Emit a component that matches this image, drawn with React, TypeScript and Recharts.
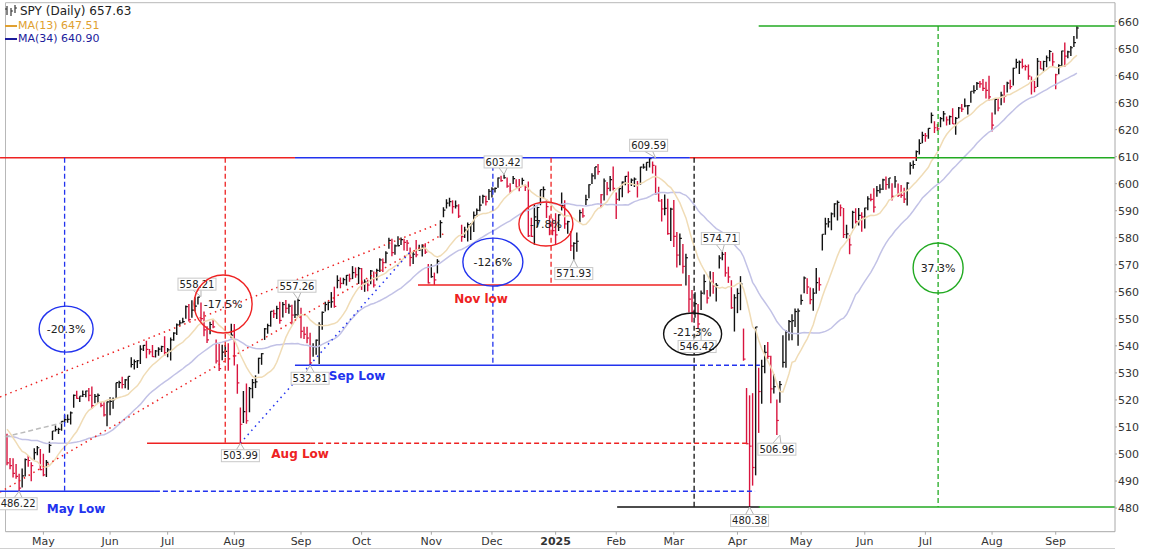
import React from "react";
import { ComposedChart, Bar, Line, XAxis, YAxis, ReferenceLine, ReferenceDot } from "recharts";

type Hlc = [number, number, number]; // high, low, close

// closes before the first plotted bar, only used to seed the moving averages
const preCloses = [
  497.5, 496.8, 498.6, 503.3, 502.8, 497.7, 500.3, 505.2, 502.2, 501.8, 507.2, 506.4, 505.4, 501.9, 504.9, 507.7, 512.4,
  514.1, 513.1, 511.7, 510.8, 515.1, 515.0, 514.1, 510.8, 511.4, 505.1, 510.4, 510.7, 511.3, 506.2, 510.0, 502.9,
];

const apr24: Hlc[] = [
  [507.5, 495.8, 496.7], [498.5, 494.4, 495.7], [498.4, 491.3, 492.8], [496.3, 490.8, 491.7], [492.7, 486.2, 487.4],
  [494.6, 487.6, 491.9], [498.3, 491.7, 497.9], [499.6, 495.3, 497.6], [496.9, 489.9, 495.7], [502.1, 497.9, 500.5],
  [503.0, 499.5, 502.3], [501.8, 494.0, 494.2],
];
const may24: Hlc[] = [
  [500.1, 491.8, 492.3], [497.8, 491.5, 496.9], [504.5, 500.5, 503.2], [508.5, 505.2, 508.5], [510.5, 508.3, 509.0],
  [509.7, 507.4, 509.1], [512.1, 508.6, 512.1], [514.5, 511.5, 512.7], [514.6, 511.6, 512.8], [515.7, 510.9, 515.2],
  [522.0, 517.1, 521.7], [523.4, 520.4, 520.6], [521.4, 519.2, 521.4], [523.5, 521.1, 522.0], [523.4, 521.0, 523.3],
  [524.4, 519.5, 521.7], [525.0, 516.6, 517.9], [522.2, 518.8, 521.3], [522.4, 519.0, 521.7], [519.2, 517.3, 518.0],
  [519.1, 513.9, 514.5], [519.4, 510.3, 519.3],
];
const jun24: Hlc[] = [
  [521.0, 514.3, 519.5], [520.9, 516.7, 520.1], [526.4, 520.4, 526.4], [527.1, 524.4, 526.4], [528.6, 524.2, 525.7],
  [527.7, 524.3, 527.4], [528.7, 523.8, 528.7], [535.8, 532.0, 533.1], [535.0, 531.3, 534.2], [534.8, 531.8, 534.5],
  [540.2, 533.3, 538.8], [540.3, 538.1, 540.2], [541.9, 535.4, 538.7], [538.8, 536.8, 537.8], [540.3, 535.9, 536.0],
  [538.5, 535.7, 538.1], [539.5, 536.3, 538.8], [540.0, 537.7, 539.7], [543.6, 536.3, 537.5],
];
const jul24: Hlc[] = [
  [539.2, 535.8, 538.5], [543.1, 534.6, 542.2], [545.0, 541.9, 544.7], [548.3, 544.0, 547.8], [549.5, 547.4, 548.5],
  [550.4, 548.4, 549.0], [554.9, 550.0, 554.5], [555.5, 549.0, 549.7], [556.9, 550.4, 553.2], [558.0, 552.8, 554.7],
  [558.2, 555.3, 558.0], [556.0, 549.0, 550.1], [552.7, 543.6, 545.9], [547.3, 541.1, 542.2], [548.9, 544.3, 547.9],
  [549.9, 546.5, 547.0], [542.4, 533.5, 534.4], [540.7, 530.7, 531.6], [540.4, 534.7, 537.7], [540.3, 535.9, 538.0],
  [541.0, 530.8, 535.2], [548.2, 542.8, 544.0],
];
const aug24: Hlc[] = [
  [548.1, 532.7, 536.3], [533.2, 522.3, 526.3], [517.2, 504.0, 511.0], [523.3, 511.5, 515.7], [526.1, 511.2, 512.3],
  [524.8, 515.4, 524.2], [527.7, 520.6, 526.4], [529.1, 524.4, 526.7], [535.6, 529.7, 535.4], [537.3, 533.0, 537.1],
  [546.6, 542.2, 546.3], [548.2, 544.5, 547.5], [552.8, 547.1, 552.8], [553.4, 550.3, 551.9], [554.8, 549.9, 553.8],
  [556.3, 548.2, 549.4], [556.2, 550.5, 555.3], [557.0, 552.2, 553.9], [555.6, 551.9, 554.7], [555.2, 547.9, 551.4],
  [556.8, 550.3, 551.5], [557.3, 550.9, 556.8],
];
const sep24: Hlc[] = [
  [554.1, 542.8, 545.4], [547.1, 542.5, 544.3], [547.1, 541.0, 542.9], [544.9, 532.8, 533.7], [541.0, 536.0, 539.7],
  [542.4, 536.7, 542.1], [548.7, 533.3, 547.7], [552.7, 546.0, 552.4], [556.3, 552.7, 555.3], [556.4, 553.2, 556.1],
  [559.9, 554.1, 556.3], [561.9, 554.1, 554.6], [566.1, 561.3, 564.2], [565.3, 561.3, 563.1], [565.2, 562.8, 564.5],
  [566.2, 562.3, 566.1], [566.7, 563.7, 564.8], [569.5, 564.7, 567.1], [569.0, 565.2, 566.3], [569.2, 562.9, 568.6],
];
const oct24: Hlc[] = [
  [568.8, 560.7, 563.3], [564.6, 560.0, 563.6], [564.5, 560.2, 562.5], [568.1, 562.8, 567.7], [567.5, 561.6, 562.5],
  [568.5, 564.2, 567.9], [572.4, 567.3, 571.8], [572.3, 567.3, 570.8], [575.0, 570.6, 574.3], [580.0, 575.9, 579.0],
  [579.6, 573.2, 574.5], [577.5, 573.7, 577.0], [580.6, 576.8, 577.1], [580.1, 577.3, 579.3], [579.6, 575.3, 578.3],
  [579.2, 575.1, 578.0], [576.4, 569.5, 572.7], [574.8, 570.3, 573.9], [579.2, 572.8, 573.7], [577.4, 575.2, 575.5],
  [577.6, 573.1, 576.5], [578.0, 574.0, 574.7], [570.3, 563.1, 563.3],
];
const nov24: Hlc[] = [
  [570.2, 565.2, 565.6], [567.1, 562.5, 564.4], [572.1, 566.8, 571.3], [586.5, 580.0, 585.6], [591.3, 587.6, 590.2],
  [594.2, 590.8, 592.8], [594.8, 591.6, 593.4], [593.9, 589.0, 591.5], [593.8, 590.8, 591.8], [592.4, 587.3, 588.0],
  [584.8, 578.5, 580.4], [584.1, 579.9, 582.8], [585.6, 578.6, 584.9], [585.4, 579.2, 585.1], [589.7, 582.1, 588.3],
  [590.8, 587.8, 590.1], [595.5, 589.8, 592.1], [595.9, 592.7, 595.3], [595.5, 591.9, 593.4], [598.0, 594.0, 597.2],
];
const dec24: Hlc[] = [
  [598.7, 594.9, 598.0], [598.6, 596.7, 598.3], [602.3, 598.5, 602.1], [602.9, 600.7, 601.1], [603.4, 601.8, 602.2],
  [602.3, 598.5, 599.1], [600.2, 596.5, 597.2], [602.8, 599.9, 601.9], [601.6, 598.7, 598.7], [601.7, 597.2, 598.6],
  [602.2, 599.6, 601.2], [599.6, 597.3, 598.7], [600.8, 580.3, 580.7], [587.4, 580.3, 580.5], [592.3, 577.4, 587.7],
  [591.5, 583.9, 591.2], [597.8, 592.0, 597.8], [599.0, 594.6, 597.8], [594.3, 587.3, 591.5], [588.2, 580.9, 584.7],
  [587.1, 580.9, 582.6],
];
const jan25: Hlc[] = [
  [589.1, 577.4, 581.1], [588.7, 582.5, 588.5], [596.7, 590.1, 591.9], [593.9, 583.3, 585.1], [586.3, 581.5, 586.0],
  [582.5, 575.1, 577.0], [578.3, 571.9, 577.9], [581.9, 574.8, 578.7], [590.4, 585.7, 589.3], [590.9, 587.4, 588.1],
  [595.9, 592.1, 594.1], [599.8, 594.6, 599.6], [603.9, 599.9, 602.9], [606.2, 601.6, 606.2], [607.3, 603.3, 604.5],
  [596.2, 591.1, 595.9], [601.9, 593.8, 601.0], [600.6, 595.7, 598.3], [602.8, 597.2, 601.5], [606.4, 597.5, 598.3],
];
const feb25: Hlc[] = [
  [596.7, 586.9, 594.2], [598.7, 593.7, 598.2], [600.8, 595.0, 600.6], [602.8, 599.4, 602.7], [604.5, 596.5, 597.2],
  [601.9, 599.1, 601.3], [602.3, 598.8, 601.7], [601.0, 594.9, 599.8], [606.3, 599.6, 606.1], [607.4, 605.5, 606.1],
  [607.9, 604.8, 607.9], [609.6, 606.0, 609.3], [608.2, 603.8, 606.8], [606.7, 595.9, 596.3], [598.9, 593.4, 593.6],
  [594.3, 586.0, 590.7], [596.0, 588.3, 590.9], [594.4, 581.1, 581.5], [591.1, 578.8, 590.6],
];
const mar25: Hlc[] = [
  [594.0, 576.6, 580.5], [582.1, 569.0, 573.6], [581.6, 569.8, 579.8], [577.7, 566.8, 569.4], [574.1, 562.3, 572.6],
  [566.2, 552.3, 557.3], [560.7, 548.7, 552.6], [559.8, 550.4, 555.6], [555.5, 546.4, 548.1], [560.5, 553.3, 559.5],
  [566.4, 559.0, 563.8], [560.7, 555.7, 557.7], [567.6, 558.3, 563.8], [567.3, 559.3, 562.2], [563.3, 556.4, 562.4],
  [573.5, 568.6, 572.5], [574.7, 571.7, 573.9], [574.7, 565.6, 567.0], [569.3, 563.3, 565.5], [564.3, 553.7, 554.1],
  [559.1, 545.3, 557.8],
];
const apr25: Hlc[] = [
  [561.3, 552.1, 559.4], [565.8, 553.2, 562.9], [546.4, 534.5, 535.1], [524.4, 503.6, 503.8], [521.7, 480.4, 502.9],
  [522.5, 488.3, 495.0], [547.0, 492.1, 547.0], [531.9, 507.8, 523.1], [534.9, 518.6, 532.4], [540.3, 529.9, 537.6],
  [541.4, 535.1, 536.1], [536.3, 518.8, 524.1], [529.6, 522.4, 524.9], [520.2, 507.0, 512.4], [527.0, 519.0, 525.7],
  [543.9, 532.0, 533.9], [545.9, 531.9, 545.1], [549.6, 542.0, 549.0], [551.7, 542.1, 549.3], [553.8, 547.0, 552.7],
  [553.8, 540.0, 552.9],
];
const may25: Hlc[] = [
  [559.0, 555.2, 556.8], [565.7, 559.5, 565.1], [565.0, 559.2, 561.8], [561.6, 555.4, 557.1], [561.3, 553.0, 559.5],
  [568.8, 559.3, 563.4], [565.3, 560.4, 562.6], [581.3, 575.3, 581.3], [587.4, 581.1, 585.1], [587.3, 583.8, 585.9],
  [589.3, 582.8, 588.8], [592.8, 587.6, 592.5], [593.8, 586.4, 593.1], [592.3, 588.0, 591.1], [591.0, 579.9, 581.2],
  [584.8, 579.7, 581.4], [580.9, 573.9, 577.4], [590.0, 583.4, 589.4], [590.9, 585.3, 586.0], [591.0, 584.5, 588.3],
  [589.4, 582.2, 587.7],
];
const jun25: Hlc[] = [
  [591.1, 583.4, 591.0], [595.4, 590.2, 594.4], [596.3, 593.5, 594.2], [598.3, 589.3, 591.3], [599.1, 595.2, 597.4],
  [599.8, 596.5, 598.0], [601.8, 597.7, 601.4], [602.7, 597.8, 599.7], [602.1, 598.2, 602.1], [600.2, 593.8, 595.3],
  [602.8, 598.5, 601.0], [600.1, 595.1, 595.8], [599.5, 594.8, 595.7], [598.5, 592.9, 594.3], [600.5, 591.9, 600.2],
  [607.9, 603.4, 606.8], [608.6, 605.5, 607.1], [612.3, 608.4, 611.9], [616.4, 610.8, 614.9], [619.2, 615.0, 617.9],
];
const jul25: Hlc[] = [
  [618.8, 615.5, 617.7], [620.5, 616.6, 620.5], [626.3, 622.4, 625.3], [623.1, 618.8, 620.7], [622.1, 619.5, 620.3],
  [624.7, 620.9, 624.1], [626.9, 623.0, 625.8], [624.9, 621.5, 623.6], [625.2, 621.8, 624.8], [627.9, 622.1, 622.1],
  [624.7, 618.1, 624.2], [628.4, 624.2, 628.0], [629.5, 626.5, 627.6], [631.5, 628.3, 628.8], [629.1, 625.6, 628.9],
  [634.2, 629.9, 634.2], [636.4, 633.4, 634.4], [637.6, 634.7, 637.1], [638.0, 635.5, 636.9], [638.7, 634.3, 635.3],
  [637.7, 631.5, 634.5], [639.9, 630.8, 632.1],
];
const aug25: Hlc[] = [
  [626.3, 619.3, 621.7], [631.6, 625.6, 631.2], [631.6, 626.8, 628.0], [634.0, 629.0, 632.8], [636.5, 629.9, 632.3],
  [637.7, 633.7, 637.2], [638.5, 634.9, 635.9], [642.9, 636.3, 642.7], [646.2, 642.7, 644.9], [645.6, 640.6, 645.0],
  [646.2, 642.6, 643.4], [644.0, 641.9, 643.3], [644.1, 638.5, 639.8], [639.7, 633.0, 638.1], [638.0, 633.8, 635.6],
  [646.5, 635.8, 645.3], [645.4, 642.4, 642.5], [645.5, 641.6, 645.2], [647.4, 643.1, 646.6], [649.5, 645.3, 648.9],
  [648.4, 643.5, 645.1],
];
const sep25: Hlc[] = [
  [640.7, 634.9, 640.3], [644.2, 640.5, 643.7], [649.2, 643.5, 649.1], [652.2, 643.3, 647.2], [649.2, 646.4, 648.8],
  [650.9, 647.2, 650.3], [654.6, 650.6, 652.2], [658.3, 653.6, 657.6],
];

const months = [apr24, may24, jun24, jul24, aug24, sep24, oct24, nov24, dec24, jan25, feb25, mar25, apr25, may25, jun25, jul25, aug25, sep25];

// bar index of the first trading day of each month and its label
const tickIdx = [12, 34, 53, 75, 97, 117, 140, 160, 181, 201, 220, 241, 262, 283, 303, 325, 346];
const tickLabels = ["May", "Jun", "Jul", "Aug", "Sep", "Oct", "Nov", "Dec", "2025", "Feb", "Mar", "Apr", "May", "Jun", "Jul", "Aug", "Sep"];
const priceTicks = [480, 490, 500, 510, 520, 530, 540, 550, 560, 570, 580, 590, 600, 610, 620, 630, 640, 650, 660];

const RED = "#ee2222";
const BLUE = "#2233ee";
const GREEN = "#22aa22";
const BLACK = "#111111";

// annotation levels drawn by the chartist: [fromBar, toBar, price, color, dashed]
const levelLines: [number, number, number, string, boolean][] = [
  [-2.3, 95, 609.59, RED, false],
  [95, 225.3, 609.59, BLUE, false],
  [225.3, 300.2, 609.59, RED, false],
  [300.2, 365.6, 609.59, GREEN, false],
  [248, 365.6, 658.33, GREEN, false],
  [135.6, 222.7, 562.5, RED, false],
  [95, 226, 532.81, BLUE, false],
  [226, 248.4, 532.81, BLUE, true],
  [46.2, 100, 503.99, RED, false],
  [100, 245, 503.99, RED, true],
  [-2.3, 48.8, 486.22, BLUE, false],
  [48.8, 246.8, 486.22, BLUE, true],
  [201.3, 248.4, 480.38, BLACK, false],
  [248, 365.6, 480.38, GREEN, false],
];
// dashed drops: [bar, topPrice, bottomPrice, color]
const dropLines: [number, number, number, string][] = [
  [19, 609.59, 486.22, BLUE],
  [72, 609.59, 503.99, RED],
  [160.3, 609.59, 532.81, BLUE],
  [179.5, 609.59, 562.5, RED],
  [226.7, 609.59, 480.38, BLACK],
  [307.2, 658.33, 480.38, GREEN],
];
// dotted trend lines: [bar1, price1, bar2, price2, color]
const trendLines: [number, number, number, number, string][] = [
  [-2.3, 521.1, 142.2, 585.1, RED],
  [-2.3, 485.9, 144.5, 581.8, RED],
  [77, 504.0, 133.6, 575.5, BLUE],
  [-0.7, 506.3, 18.1, 511.5, "#bbbbbb"],
];
// percentage ovals: [bar, price, rx, ry, color, text, textShift]
const ovals: [number, number, number, number, string, string, number][] = [
  [19.5, 546.2, 27, 23, BLUE, "-20.3%", 4],
  [71.3, 555.5, 29, 29, RED, "-17.5%", 4],
  [160.3, 571.0, 30, 24, BLUE, "-12.6%", 4],
  [177.8, 585.1, 27, 22, RED, "-7.8%", 4],
  [226.2, 544.4, 29, 21, BLACK, "-21.3%", 2],
  [307.2, 568.8, 25, 25, GREEN, "37.3%", 4],
];
// price call-outs: [bar, price, dx, dy, text]
const priceTags: [number, number, number, number, string][] = [
  [4, 486.22, -1, 12.5, "486.22"],
  [77, 503.99, 0, 12.5, "503.99"],
  [100, 532.81, 0, 13, "532.81"],
  [64, 558.21, -4, -12.5, "558.21"],
  [96, 557.26, -1, -13, "557.26"],
  [164, 603.42, -1, -12.5, "603.42"],
  [214, 609.59, -7, -12.5, "609.59"],
  [187, 571.93, 0, 14, "571.93"],
  [236, 574.71, -2, -13.5, "574.71"],
  [255, 506.96, -3, 14, "506.96"],
  [245, 480.38, 0, 13.5, "480.38"],
  [229, 546.42, -4, 18, "546.42"],
];
// bold text notes: [bar, price, text, color]
const notes: [number, number, string, string][] = [
  [22.8, 479.8, "May Low", BLUE],
  [96.7, 500.0, "Aug Low", RED],
  [115.5, 528.9, "Sep Low", BLUE],
  [156.4, 557.7, "Nov low", RED],
];

const bars = months.flat();
const closes = [...preCloses, ...bars.map((b) => b[2])];
const P = preCloses.length;
const sma = (n: number, k: number) => {
  let s = 0;
  for (let j = k - n + 1; j <= k; j++) s += closes[j];
  return s / n;
};
const data = bars.map((b, i) => ({
  i,
  range: [b[1], b[0]],
  high: b[0],
  low: b[1],
  close: b[2],
  up: b[2] >= closes[P + i - 1],
  ma13: sma(13, P + i),
  ma34: sma(34, P + i),
}));

const BarShape = (props: any) => {
  const { x, y, width, height, payload } = props;
  const cx = x + width / 2;
  const span = payload.high - payload.low || 1;
  const cy = y + ((payload.high - payload.close) / span) * height;
  const color = payload.up ? "#111111" : "#d8143e";
  return (
    <g>
      <line x1={cx} x2={cx} y1={y} y2={y + height} stroke={color} strokeWidth={1.4} />
      <line x1={cx} x2={cx + 2} y1={cy} y2={cy} stroke={color} strokeWidth={1.2} />
    </g>
  );
};

const MonthTick = (p: any) => {
  const label = tickLabels[tickIdx.indexOf(p.payload.value)];
  return (
    <text x={p.x} y={p.y} dy={8} textAnchor="middle" fontSize={11} fill="#333" fontWeight={label === "2025" ? "bold" : "normal"}>
      {label}
    </text>
  );
};

const PriceTick = (p: any) => (
  <text x={p.x} y={p.y} dy={4} textAnchor="start" fontSize={11} fill="#333">
    {p.payload.value}
  </text>
);

export default function App() {
  return (
    <div style={{ position: "absolute", left: 0, top: 0, width: 1154, height: 550, background: "#fff", fontFamily: "'DejaVu Sans', Verdana, sans-serif" }}>
      <ComposedChart width={1154} height={550} data={data} margin={{ top: 2.7, right: 0, bottom: 0, left: 5.5 }}>
        <XAxis
          dataKey="i"
          type="number"
          domain={[-0.5, 365.56]}
          ticks={tickIdx}
          interval={0}
          allowDataOverflow
          height={18.3}
          tickSize={3}
          tickMargin={2}
          tick={<MonthTick />}
          axisLine={{ stroke: "#a8a8a8" }}
          tickLine={{ stroke: "#a8a8a8" }}
        />
        <YAxis
          orientation="right"
          domain={[471.25, 666.96]}
          ticks={priceTicks}
          interval={0}
          allowDataOverflow
          width={39}
          tickSize={2}
          tickMargin={1}
          tick={<PriceTick />}
          axisLine={{ stroke: "#a8a8a8" }}
          tickLine={{ stroke: "#a8a8a8" }}
        />
        <ReferenceLine x={-0.5} stroke="#b8b8b8" ifOverflow="visible" />
        <ReferenceLine y={666.96} stroke="#b8b8b8" ifOverflow="visible" />
        <Line dataKey="ma34" stroke="#c2c2e6" strokeWidth={1.5} dot={false} isAnimationActive={false} />
        <Line dataKey="ma13" stroke="#f0dcb6" strokeWidth={1.5} dot={false} isAnimationActive={false} />
        {trendLines.map((t, k) => (
          <ReferenceLine
            key={"t" + k}
            segment={[{ x: t[0], y: t[1] }, { x: t[2], y: t[3] }]}
            stroke={t[4]}
            strokeWidth={1.5}
            strokeDasharray={t[4] === "#bbbbbb" ? "5 3" : "1.5 4"}
            ifOverflow="visible"
          />
        ))}
        <Bar dataKey="range" barSize={3} shape={<BarShape />} isAnimationActive={false} />
        {levelLines.map((l, k) => (
          <ReferenceLine
            key={"h" + k}
            segment={[{ x: l[0], y: l[2] }, { x: l[1], y: l[2] }]}
            stroke={l[3]}
            strokeWidth={1.5}
            strokeDasharray={l[4] ? "5 3" : undefined}
            ifOverflow="visible"
          />
        ))}
        {dropLines.map((d, k) => (
          <ReferenceLine
            key={"v" + k}
            segment={[{ x: d[0], y: d[1] }, { x: d[0], y: d[2] }]}
            stroke={d[3]}
            strokeWidth={1.3}
            strokeDasharray="5 3"
            ifOverflow="visible"
          />
        ))}
        {priceTags.map((t, k) => (
          <ReferenceDot
            key={"p" + k}
            x={t[0]}
            y={t[1]}
            r={1}
            ifOverflow="visible"
            shape={(s: any) => {
              const bx = s.cx + t[2];
              const by = s.cy + t[3];
              const w = 38;
              const h = 12;
              const edge = t[3] > 0 ? by - h / 2 : by + h / 2;
              return (
                <g>
                  <path d={`M${bx - 4},${edge} L${s.cx},${s.cy} L${bx + 4},${edge}`} fill="#fff" stroke="#b4b4b4" />
                  <rect x={bx - w / 2} y={by - h / 2} width={w} height={h} fill="#fff" stroke="#c8c8c8" />
                  <text x={bx} y={by + 3.6} textAnchor="middle" fontSize={10} fill="#222">
                    {t[4]}
                  </text>
                </g>
              );
            }}
          />
        ))}
        {ovals.map((o, k) => (
          <ReferenceDot
            key={"o" + k}
            x={o[0]}
            y={o[1]}
            r={1}
            ifOverflow="visible"
            shape={(s: any) => (
              <g>
                <ellipse cx={s.cx} cy={s.cy} rx={o[2]} ry={o[3]} fill="none" stroke={o[4]} strokeWidth={1.4} />
                <text x={s.cx} y={s.cy + o[6]} textAnchor="middle" fontSize={11} fill="#222">
                  {o[5]}
                </text>
              </g>
            )}
          />
        ))}
        {notes.map((n, k) => (
          <ReferenceDot
            key={"n" + k}
            x={n[0]}
            y={n[1]}
            r={1}
            ifOverflow="visible"
            shape={(s: any) => (
              <text x={s.cx} y={s.cy + 4.5} textAnchor="middle" fontSize={12} fontWeight="bold" fill={n[3]}>
                {n[2]}
              </text>
            )}
          />
        ))}
      </ComposedChart>
      <div style={{ position: "absolute", left: 0, top: 548, width: 1115, height: 1, background: "#d0d0d0" }} />
      <div style={{ position: "absolute", left: 5, top: 5, fontSize: 12, lineHeight: "13.5px", whiteSpace: "nowrap" }}>
        <div style={{ color: "#222" }}>
          <svg width={13} height={11} style={{ verticalAlign: "-1px", marginRight: 2 }}>
            <line x1={2} x2={2} y1={1} y2={10} stroke="#333" strokeWidth={1.2} />
            <line x1={0} x2={2} y1={4} y2={4} stroke="#333" />
            <line x1={6} x2={6} y1={3} y2={11} stroke="#333" strokeWidth={1.2} />
            <line x1={6} x2={8} y1={6} y2={6} stroke="#333" />
            <line x1={10} x2={10} y1={0} y2={8} stroke="#333" strokeWidth={1.2} />
            <line x1={10} x2={12} y1={3} y2={3} stroke="#333" />
          </svg>
          SPY (Daily) 657.63
        </div>
        <div style={{ color: "#e0a030", fontSize: 11 }}>
          <span style={{ display: "inline-block", width: 12, height: 2, background: "#e0a030", verticalAlign: "middle", marginRight: 1 }} />
          MA(13) 647.51
        </div>
        <div style={{ color: "#1c1c9c", fontSize: 11 }}>
          <span style={{ display: "inline-block", width: 12, height: 2, background: "#1c1c9c", verticalAlign: "middle", marginRight: 1 }} />
          MA(34) 640.90
        </div>
      </div>
    </div>
  );
}
